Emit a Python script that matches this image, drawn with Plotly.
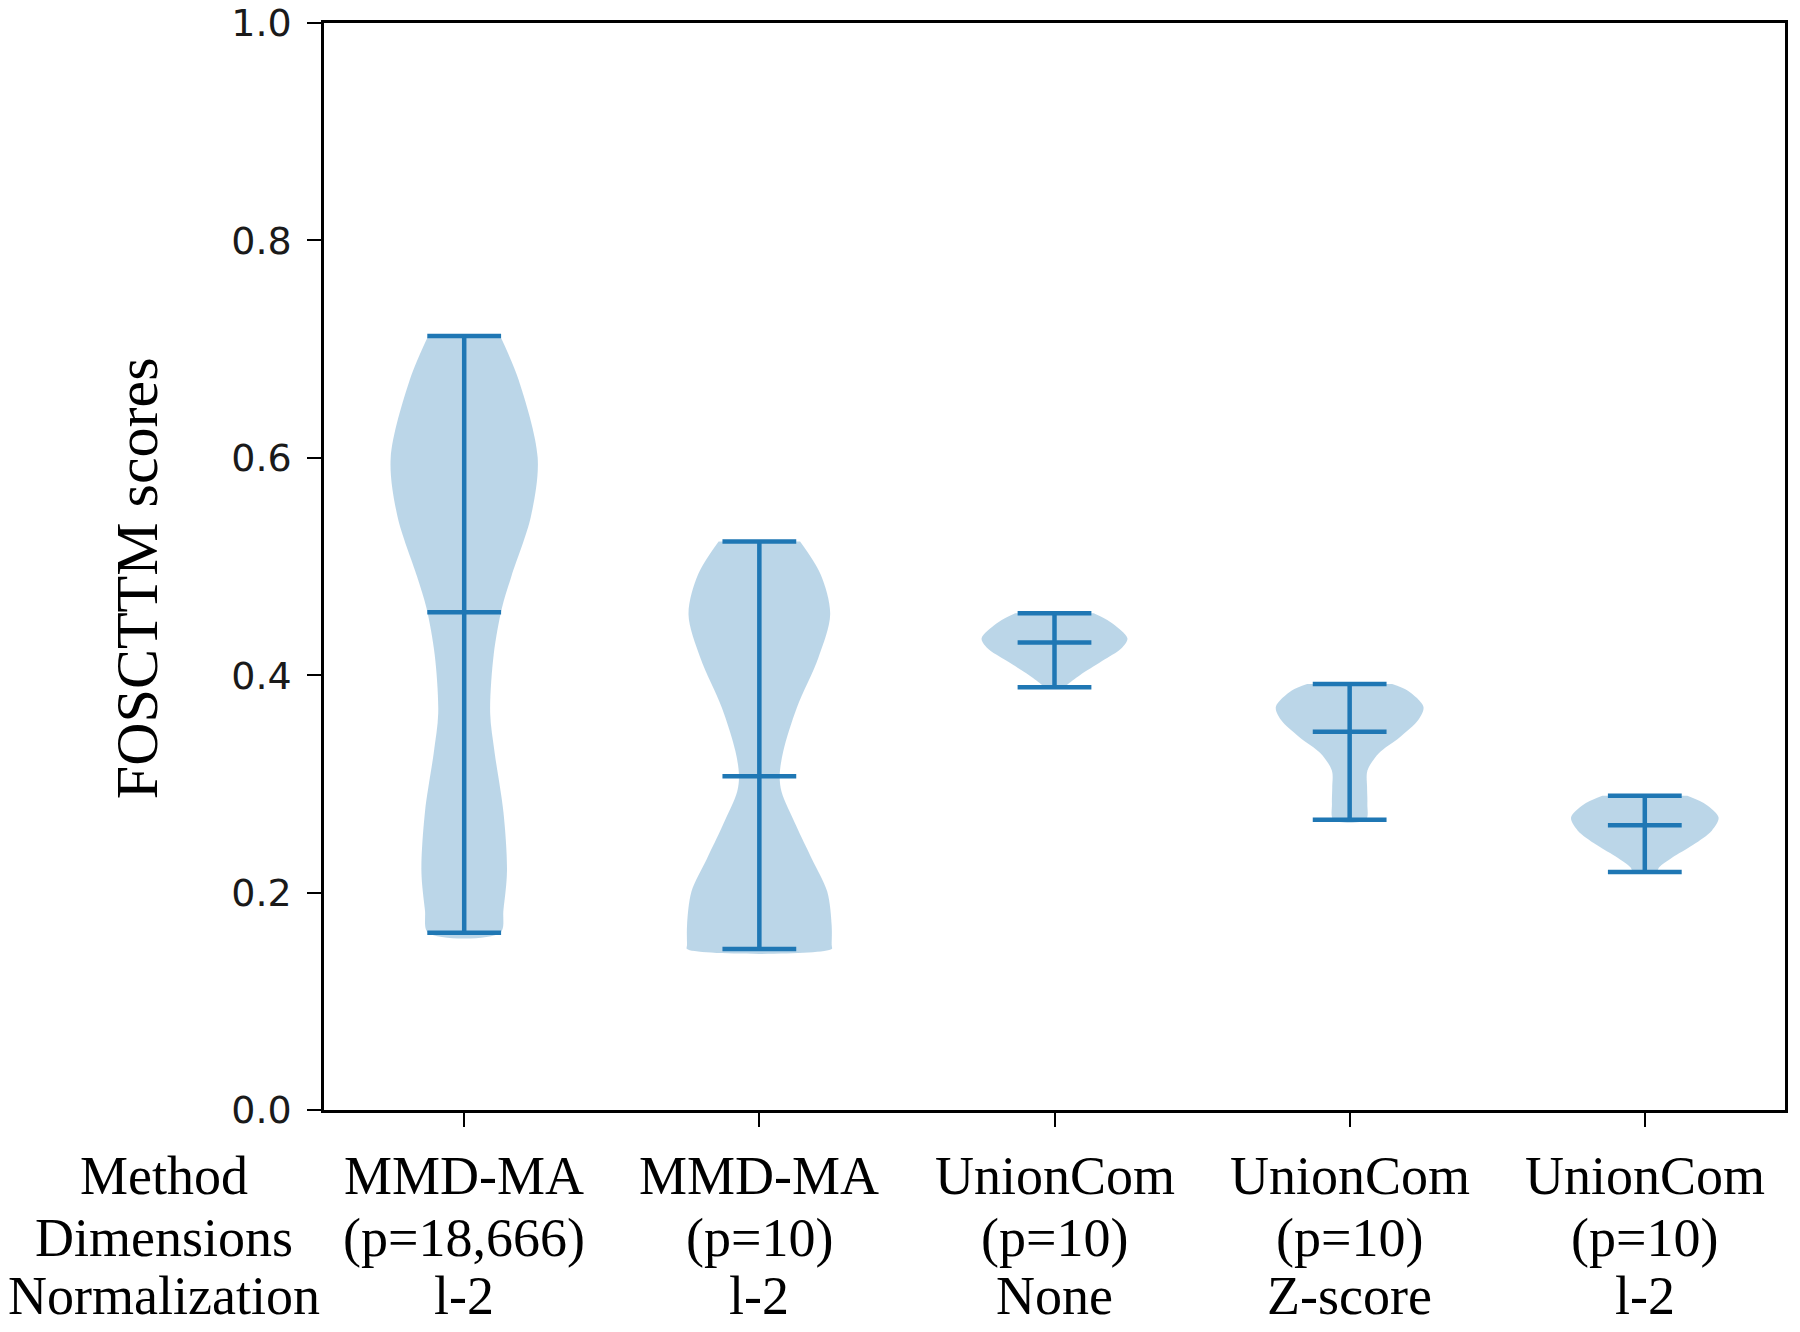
import plotly.graph_objects as go

# categories / tick labels
methods = ["MMD-MA", "MMD-MA", "UnionCom", "UnionCom", "UnionCom"]
dims = ["(p=18,666)", "(p=10)", "(p=10)", "(p=10)", "(p=10)"]
norms = ["l-2", "l-2", "None", "Z-score", "l-2"]
row_names = ["Method", "Dimensions", "Normalization"]
positions = [1, 2, 3, 4, 5]

# summary stats
mins = [0.163, 0.148, 0.389, 0.267, 0.219]
maxs = [0.712, 0.523, 0.457, 0.392, 0.289]
means = [0.458, 0.307, 0.430, 0.348, 0.262]

# violin outlines: score level and half width (in category units)
levels_1 = [0.712, 0.672, 0.600, 0.546, 0.491, 0.462, 0.419, 0.365, 0.329, 0.274, 0.220, 0.184, 0.163]
widths_1 = [0.122, 0.184, 0.249, 0.226, 0.160, 0.128, 0.100, 0.088, 0.103, 0.133, 0.145, 0.133, 0.122]
levels_2 = [0.523, 0.493, 0.456, 0.416, 0.370, 0.330, 0.308, 0.293, 0.262, 0.231, 0.201, 0.170, 0.152, 0.148]
widths_2 = [0.138, 0.207, 0.240, 0.200, 0.127, 0.081, 0.069, 0.075, 0.124, 0.178, 0.230, 0.245, 0.245, 0.245]
levels_3 = [0.457, 0.449, 0.434, 0.425, 0.413, 0.400, 0.391, 0.389]
widths_3 = [0.133, 0.189, 0.247, 0.228, 0.161, 0.086, 0.042, 0.035]
levels_4 = [0.392, 0.386, 0.371, 0.359, 0.343, 0.328, 0.312, 0.297, 0.282, 0.267]
widths_4 = [0.144, 0.196, 0.250, 0.233, 0.170, 0.098, 0.060, 0.059, 0.060, 0.055]
levels_5 = [0.289, 0.281, 0.269, 0.257, 0.244, 0.232, 0.223, 0.219]
widths_5 = [0.144, 0.207, 0.250, 0.227, 0.164, 0.092, 0.048, 0.040]

profiles = [(levels_1, widths_1), (levels_2, widths_2), (levels_3, widths_3),
            (levels_4, widths_4), (levels_5, widths_5)]

blue = "#1f77b4"
fill = "rgba(31,119,180,0.3)"
cap = 0.125

fig = go.Figure()

for pos, (lv, wd) in zip(positions, profiles):
    xs = [pos - w for w in wd] + [pos + w for w in wd[::-1]]
    ys = list(lv) + list(lv[::-1])
    fig.add_trace(go.Scatter(x=xs, y=ys, mode="lines", fill="toself",
                             fillcolor=fill, line=dict(width=0, shape="spline", smoothing=0.9),
                             hoverinfo="skip", showlegend=False))

for pos, lo, hi, mu in zip(positions, mins, maxs, means):
    # vertical bar
    fig.add_trace(go.Scatter(x=[pos, pos], y=[lo, hi], mode="lines",
                             line=dict(color=blue, width=4.5), showlegend=False))
    # caps + mean
    for v in (lo, hi, mu):
        fig.add_trace(go.Scatter(x=[pos - cap, pos + cap], y=[v, v], mode="lines",
                                 line=dict(color=blue, width=4.5), showlegend=False))

serif = "Liberation Serif"
annots = []
row_shift = [-66, -128, -186]
for r, name in enumerate(row_names):
    annots.append(dict(x=-0.1095, y=0, xref="paper", yref="paper", text=name,
                       showarrow=False, xanchor="center", yanchor="middle",
                       yshift=row_shift[r], font=dict(family=serif, size=54, color="black")))
for pos, m, d, n in zip(positions, methods, dims, norms):
    for r, t in enumerate([m, d, n]):
        annots.append(dict(x=pos, y=0, xref="x", yref="paper", text=t,
                           showarrow=False, xanchor="center", yanchor="middle",
                           yshift=row_shift[r], font=dict(family=serif, size=54, color="black")))
annots.append(dict(x=-0.1275, y=0.489, xref="paper", yref="paper", text="FOSCTTM scores",
                   showarrow=False, textangle=-90, xanchor="center", yanchor="middle",
                   font=dict(family=serif, size=60, color="black")))

fig.update_layout(
    width=1800, height=1332,
    margin=dict(l=324, r=15, t=23, b=222),
    plot_bgcolor="white", paper_bgcolor="white",
    showlegend=False,
    annotations=annots,
)
fig.update_xaxes(range=[0.525, 5.475], tickvals=positions, showticklabels=False,
                 ticks="outside", ticklen=14, tickwidth=2, tickcolor="black",
                 showline=True, mirror=True, linecolor="black", linewidth=2.5,
                 showgrid=False, zeroline=False, automargin=False)
fig.update_yaxes(range=[0, 1], tickvals=[0, 0.2, 0.4, 0.6, 0.8, 1.0],
                 ticktext=["0.0", "0.2", "0.4", "0.6", "0.8", "1.0"],
                 ticks="outside", ticklen=14, tickwidth=2, tickcolor="black",
                 tickfont=dict(family="DejaVu Sans", size=38, color="#1a1a1a"),
                 ticklabelstandoff=8, ticklabeloverflow="allow",
                 showline=True, mirror=True, linecolor="black", linewidth=2.5,
                 showgrid=False, zeroline=False, automargin=False)

# drop the default 8px body margin so the figure fills the window exactly
fig.write_html("out.html", config=dict(displayModeBar=False),
               post_script="document.body.style.margin='0px';")
